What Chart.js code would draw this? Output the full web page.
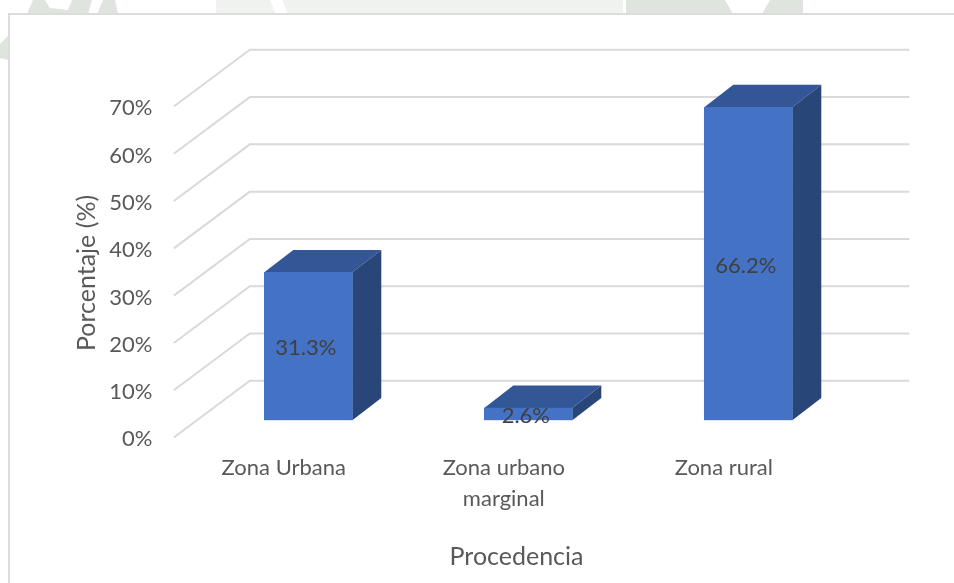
<!DOCTYPE html>
<html><head><meta charset="utf-8">
<style>
html,body{margin:0;padding:0;background:#fff;width:954px;height:583px;overflow:hidden}
#frame{position:absolute;left:8px;top:13px;width:960px;height:600px;border:2px solid #dcdcdc;background:#fff;box-sizing:border-box}
#wrap{position:absolute;left:0;top:0;width:954px;height:583px}
</style>
<script src="https://cdn.jsdelivr.net/npm/chart.js@4"></script>
</head><body>
<svg width="954" height="583" style="position:absolute;left:0;top:0">
<g fill="#e0e4de">
<rect x="216" y="0" width="407" height="14" fill="#f0f2ef"/>
<rect x="626" y="0" width="177" height="14"/>
<polygon points="27,14 33,0 115,0 118,14"/>
<polygon points="0,44 8,36 8,60 0,58"/>
</g>
<g fill="#fff">
<polygon points="45,0 72,0 68,10 50,8"/>
<polygon points="92,0 103,0 97,14 88,14"/>
<polygon points="725,0 770,0 762,14 733,14"/>
<polygon points="270,0 282,0 288,14 276,14"/>
</g>
</svg>
<div id="frame"></div>
<div id="wrap"><canvas id="c" width="954" height="583"></canvas></div>
<script>
const categories = [["Zona Urbana"], ["Zona urbano","marginal"], ["Zona rural"]];
const values = [31.3, 2.6, 66.2];
const valueLabels = ["31.3%", "2.6%", "66.2%"];
const yTicks = [0,10,20,30,40,50,60,70];
const yTitle = "Porcentaje (%)";
const xTitle = "Procedencia";

const FONT = "Lato, Carlito, sans-serif";
const TEXT = "#595959";
const GRID = "#d9d9d9";

const threeD = {
  id:'threeD',
  beforeDatasetsDraw(chart){
    const {ctx, scales:{x,y}} = chart;
    ctx.save();
    ctx.strokeStyle = GRID; ctx.lineWidth = 2; ctx.lineJoin='round';
    yTicks.forEach(t=>{
      const py = y.getPixelForValue(t);
      ctx.beginPath();
      ctx.moveTo(x.left-24.5, py+17.2);
      ctx.lineTo(x.left+51.5, py-39.5);
      ctx.lineTo(x.right+51, py-39.5);
      ctx.stroke();
    });
    const dx=29, dy=22.4;
    chart.getDatasetMeta(0).data.forEach(b=>{
      const {x:cx,y:top,base,width} = b.getProps(['x','y','base','width'],true);
      const l=cx-width/2, r=cx+width/2;
      ctx.fillStyle='#325696';
      ctx.beginPath();ctx.moveTo(l,top);ctx.lineTo(l+dx,top-dy);ctx.lineTo(r+dx,top-dy);ctx.lineTo(r,top);ctx.closePath();ctx.fill();
      ctx.fillStyle='#294679';
      ctx.beginPath();ctx.moveTo(r,top);ctx.lineTo(r+dx,top-dy);ctx.lineTo(r+dx,base-dy);ctx.lineTo(r,base);ctx.closePath();ctx.fill();
    });
    ctx.restore();
  },
  afterDatasetsDraw(chart){
    const {ctx} = chart;
    ctx.save();
    ctx.fillStyle='#404040';
    ctx.font='22px '+FONT;
    ctx.textAlign='center';ctx.textBaseline='middle';
    chart.getDatasetMeta(0).data.forEach((b,i)=>{
      const {x:cx,y:top,base} = b.getProps(['x','y','base'],true);
      ctx.fillText(valueLabels[i], cx-2.5, (top+base)/2+2);
    });
    ctx.fillStyle=TEXT;
    ctx.font='25px '+FONT;
    ctx.fillText(xTitle, 516.5, 557);
    ctx.translate(87,273);ctx.rotate(-Math.PI/2);
    ctx.fillText(yTitle,0,0);
    ctx.restore();
  }
};

new Chart(document.getElementById('c'),{
  type:'bar',
  data:{labels:categories,datasets:[{data:values,backgroundColor:'#4472c4',barThickness:88}]},
  plugins:[threeD],
  options:{
    responsive:false,animation:false,
    layout:{padding:{left:0,top:89.3,right:95.7,bottom:0}},
    plugins:{legend:{display:false},tooltip:{enabled:false}},
    scales:{
      x:{
        afterFit(s){s.height=162.7},
        grid:{display:false},border:{display:false},
        ticks:{color:TEXT,font:{family:FONT,size:22,lineHeight:1.4},labelOffset:-24.5,maxRotation:0,autoSkip:false,padding:24}
      },
      y:{
        min:0,max:70,
        afterFit(s){s.width=198.3},
        afterBuildTicks(s){s.ticks=yTicks.map(v=>({value:v}))},
        grid:{display:false},border:{display:false},
        ticks:{color:TEXT,font:{family:FONT,size:22},labelOffset:19,padding:38,callback:v=>v+'%'}
      }
    }
  }
});
</script>
</body></html>
